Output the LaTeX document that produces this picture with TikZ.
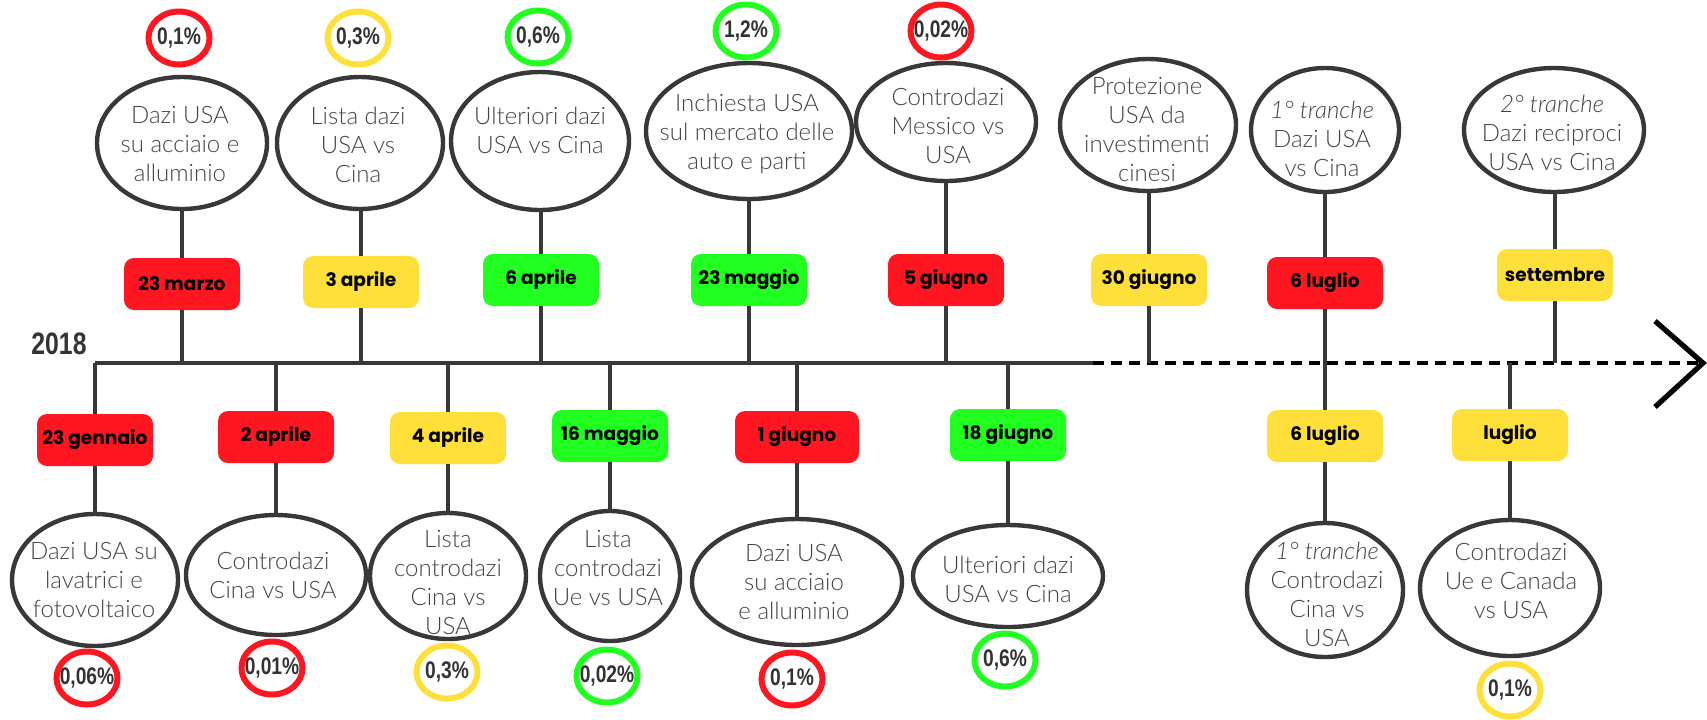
\documentclass[tikz,border=0pt]{standalone}
\usepackage{fontspec}
\usetikzlibrary{shapes.geometric}
\IfFontExistsTF{Lato Light}{\newfontfamily\elfont{Lato Light}[ItalicFont={Lato Light Italic}]}{\newfontfamily\elfont{Lato}}
\newfontfamily\dfont{Poppins}
\newfontfamily\pfont{Liberation Sans}[FakeStretch=0.8]
\definecolor{rd}{RGB}{255,22,32}
\definecolor{yl}{RGB}{255,224,58}
\definecolor{gr}{RGB}{32,255,32}
\definecolor{lineg}{RGB}{56,56,56}
\definecolor{textg}{RGB}{68,68,68}
\definecolor{pctg}{RGB}{51,51,51}
\tikzset{
  ell/.style={ellipse, draw=lineg, line width=2.2pt, inner sep=0pt, fill=white},
  etext/.style={align=center, inner sep=0pt, text=textg, font=\elfont\fontsize{12pt}{14.5pt}\selectfont},
  datebox/.style={rounded corners=5pt, minimum width=58pt, minimum height=26pt, inner sep=0pt, text=black, font=\dfont\bfseries\fontsize{9.3pt}{11pt}\selectfont},
  pct/.style={ellipse, line width=3pt, minimum width=30.5pt, minimum height=26.5pt, inner ysep=0pt, inner xsep=-6pt, text=pctg, font=\pfont\bfseries\fontsize{12pt}{12pt}\selectfont},
  stem/.style={draw=lineg, line width=2pt},
  tline/.style={draw=lineg, line width=2pt},
  dline/.style={draw=black, line width=2pt, dash pattern=on 5.5pt off 3.5pt},
}
\begin{document}
\begin{tikzpicture}[x=0.5pt,y=-0.5pt]
\useasboundingbox[fill=white] (0,0) rectangle (1707,719);

% timeline
\coordinate (tl0) at (95,363);
\coordinate (tl1) at (1093,363);
\coordinate (tip) at (1703,363);
\coordinate (chA) at (1655,321);
\coordinate (chB) at (1655,407);
\draw[tline] (tl0) -- (tl1);
\draw[dline] (tl1) -- (tip);
\draw[black, line width=2.6pt] (chA) -- (tip) -- (chB);
\node[font=\pfont\bfseries\fontsize{15.5pt}{16pt}\selectfont, text=pctg] (year) at (59,344) {2018};

% ---------------- top row ----------------
% T1
\node[pct, draw=rd] (c1) at (179,38) {0,1\%};
\node[ell, minimum width=85pt, minimum height=66pt] (e1) at (182,143) {};
\node[etext] (t1) at (180,144) {Dazi USA\\su acciaio e\\alluminio};
\node[datebox, fill=rd] (d1) at (182,284) {23 marzo};
% T2
\node[pct, draw=yl] (c2) at (358,38) {0,3\%};
\node[ell, minimum width=83pt, minimum height=66pt] (e2) at (360,143) {};
\node[etext] (t2) at (358,145) {Lista dazi\\USA vs\\Cina};
\node[datebox, fill=yl] (d2) at (361,282) {3 aprile};
% T3
\node[pct, draw=gr] (c3) at (538,37) {0,6\%};
\node[ell, minimum width=89pt, minimum height=69pt] (e3) at (540,141) {};
\node[etext] (t3) at (540,130) {Ulteriori dazi\\USA vs Cina};
\node[datebox, fill=gr] (d3) at (541,280) {6 aprile};
% T4
\node[pct, draw=gr] (c4) at (746,31) {1,2\%};
\node[ell, minimum width=103pt, minimum height=68pt] (e4) at (749,131) {};
\node[etext] (t4) at (747,134) {Inchiesta USA\\sul mercato delle\\auto e parti};
\node[datebox, fill=gr] (d4) at (749,280) {23 maggio};
% T5
\node[pct, draw=rd] (c5) at (941,31) {0,02\%};
\node[ell, minimum width=90pt, minimum height=59pt] (e5) at (946,122) {};
\node[etext] (t5) at (948,126) {Controdazi\\Messico vs\\USA};
\node[datebox, fill=rd] (d5) at (946,280) {5 giugno};
% T6
\node[ell, minimum width=88pt, minimum height=66pt] (e6) at (1148,125) {};
\node[etext] (t6) at (1147,130) {Protezione\\USA da\\investimenti\\cinesi};
\node[datebox, fill=yl] (d6) at (1149,280) {30 giugno};
% T7
\node[ell, minimum width=74pt, minimum height=62pt] (e7) at (1325,130) {};
\node[etext] (t7) at (1322,139) {{\itshape 1° tranche}\\Dazi USA\\vs Cina};
\node[datebox, fill=rd] (d7) at (1325,283) {6 luglio};
% T8
\node[ell, minimum width=90pt, minimum height=62pt] (e8) at (1554,130) {};
\node[etext] (t8) at (1552,133) {{\itshape 2° tranche}\\Dazi reciproci\\USA vs Cina};
\node[datebox, fill=yl] (d8) at (1555,275) {settembre};

% ---------------- bottom row ----------------
% B1
\node[datebox, fill=rd] (b1) at (95,440) {23 gennaio};
\node[ell, minimum width=83pt, minimum height=66pt] (f1) at (95,580) {};
\node[etext] (u1) at (94,580) {Dazi USA su\\lavatrici e\\fotovoltaico};
\node[pct, draw=rd] (p1) at (87,678) {0,06\%};
% B2
\node[datebox, fill=rd] (b2) at (276,437) {2 aprile};
\node[ell, minimum width=90pt, minimum height=60pt] (f2) at (276,575) {};
\node[etext] (u2) at (273,575) {Controdazi\\Cina vs USA};
\node[pct, draw=rd] (p2) at (272,668) {0,01\%};
% B3
\node[datebox, fill=yl] (b3) at (448,438) {4 aprile};
\node[ell, minimum width=78pt, minimum height=63pt] (f3) at (448,576) {};
\node[etext] (u3) at (448,583) {Lista\\controdazi\\Cina vs\\USA};
\node[pct, draw=yl] (p3) at (447,672) {0,3\%};
% B4
\node[datebox, fill=gr] (b4) at (610,436) {16 maggio};
\node[ell, minimum width=70pt, minimum height=65pt] (f4) at (610,576) {};
\node[etext] (u4) at (608,568) {Lista\\controdazi\\Ue vs USA};
\node[pct, draw=gr] (p4) at (607,676) {0,02\%};
% B5
\node[datebox, fill=rd, minimum width=62pt] (b5) at (797,437) {1 giugno};
\node[ell, minimum width=105pt, minimum height=63pt] (f5) at (797,582) {};
\node[etext] (u5) at (794,582) {Dazi USA\\su acciaio\\e alluminio};
\node[pct, draw=rd] (p5) at (792,679) {0,1\%};
% B6
\node[datebox, fill=gr] (b6) at (1008,435) {18 giugno};
\node[ell, minimum width=95pt, minimum height=51pt] (f6) at (1008,576) {};
\node[etext] (u6) at (1008,579) {Ulteriori dazi\\USA vs Cina};
\node[pct, draw=gr] (p6) at (1005,660) {0,6\%};
% B7
\node[datebox, fill=yl] (b7) at (1325,436) {6 luglio};
\node[ell, minimum width=78pt, minimum height=67pt] (f7) at (1325,590) {};
\node[etext] (u7) at (1327,594) {{\itshape 1° tranche}\\Controdazi\\Cina vs\\USA};
% B8
\node[datebox, fill=yl] (b8) at (1510,435) {luglio};
\node[ell, minimum width=90pt, minimum height=68pt] (f8) at (1510,588) {};
\node[etext] (u8) at (1511,581) {Controdazi\\Ue e Canada\\vs USA};
\node[pct, draw=yl] (p8) at (1510,690) {0,1\%};

% ---------------- stems ----------------
\foreach \i in {1,...,6,8}{
  \draw[stem] (d\i.north |- e\i.south) -- (d\i.north);
  \draw[stem] (d\i.south) -- (d\i.south |- tl0);
}
\draw[stem] (d7.north |- e7.south) -- (d7.north);
\draw[stem] (d7.south) -- (b7.north);
\draw[stem] (tl0) -- (b1.north);
\foreach \i in {2,...,6,8}{
  \draw[stem] (b\i.north |- tl0) -- (b\i.north);
}
\foreach \i in {1,...,8}{
  \draw[stem] (b\i.south) -- (b\i.south |- f\i.north);
}
\end{tikzpicture}
\end{document}
